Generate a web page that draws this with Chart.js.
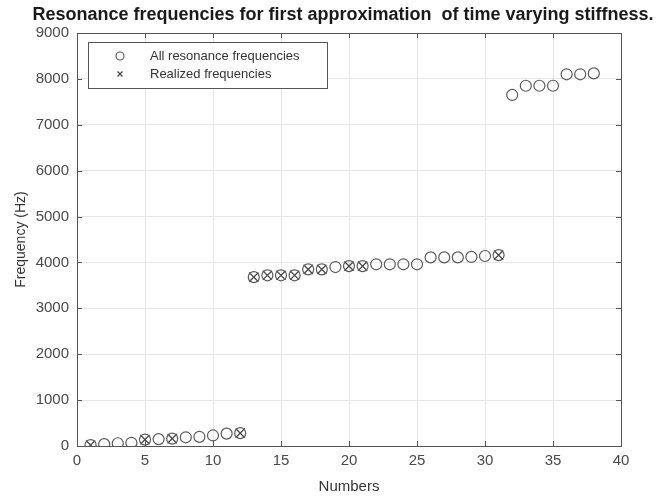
<!DOCTYPE html>
<html>
<head>
<meta charset="utf-8">
<script src="https://cdn.jsdelivr.net/npm/chart.js@4.4.1/dist/chart.umd.min.js"></script>
<style>
html, body { margin: 0; padding: 0; background: #fff; }
#wrap { width: 662px; height: 496px; }
</style>
</head>
<body>
<div id="wrap"><canvas id="freqChart" width="662" height="496"></canvas></div>
<script>
// mode numbers and their resonance frequencies (Hz)
const numbers = [1, 2, 3, 4, 5, 6, 7, 8, 9, 10, 11, 12, 13, 14, 15, 16, 17, 18, 19,
  20, 21, 22, 23, 24, 25, 26, 27, 28, 29, 30, 31, 32, 33, 34, 35, 36, 37, 38];
const allFreq = [20, 40, 60, 70, 140, 150, 160, 190, 200, 230, 270, 280,
  3680, 3720, 3720, 3720, 3850, 3850, 3900, 3920, 3920, 3960, 3960, 3960, 3960,
  4110, 4110, 4110, 4120, 4140, 4160,
  7650, 7850, 7850, 7850, 8100, 8100, 8120];
// the modes that are actually realized
const realizedNumbers = [1, 5, 7, 12, 13, 14, 15, 16, 17, 18, 20, 21, 31];

const xMin = 0, xMax = 40, xStep = 5;
const yMin = 0, yMax = 9000, yStep = 1000;

const chartTitle = "Resonance frequencies for first approximation  of time varying stiffness.";
const FONT = "'Liberation Sans', Arial, sans-serif";
const INK = "#4a4a4a";

const allPoints = numbers.map((n, i) => ({x: n, y: allFreq[i]}));
const realizedPoints = realizedNumbers.map(n => ({x: n, y: allFreq[numbers.indexOf(n)]}));

// title, box around the axes and inward ticks, MATLAB style
const frame = {
  id: "frame",
  afterDraw(chart) {
    const {ctx, chartArea: a, scales} = chart;
    ctx.save();
    ctx.strokeStyle = "#555";
    ctx.lineWidth = 1;
    ctx.strokeRect(a.left + 0.5, a.top + 0.5, a.right - a.left, a.bottom - a.top);
    ctx.beginPath();
    scales.x.ticks.forEach(t => {
      const px = Math.round(scales.x.getPixelForValue(t.value)) + 0.5;
      ctx.moveTo(px, a.bottom); ctx.lineTo(px, a.bottom - 5);
      ctx.moveTo(px, a.top); ctx.lineTo(px, a.top + 5);
    });
    scales.y.ticks.forEach(t => {
      const py = Math.round(scales.y.getPixelForValue(t.value)) + 0.5;
      ctx.moveTo(a.left, py); ctx.lineTo(a.left + 5, py);
      ctx.moveTo(a.right, py); ctx.lineTo(a.right - 5, py);
    });
    ctx.stroke();

    ctx.fillStyle = "#1a1a1a";
    ctx.font = "bold 18px " + FONT;
    ctx.textAlign = "center";
    ctx.textBaseline = "middle";
    ctx.fillText(chartTitle, (a.left + a.right) / 2 - 6, 15);
    ctx.restore();
  }
};

// legend box drawn inside the axes, top-left corner
const insetLegend = {
  id: "insetLegend",
  afterDraw(chart) {
    const {ctx, chartArea: a} = chart;
    const box = {x: a.left + 11, y: a.top + 9, w: 239, h: 46};
    ctx.save();
    ctx.fillStyle = "#fff";
    ctx.fillRect(box.x, box.y, box.w, box.h);
    ctx.strokeStyle = "#555";
    ctx.lineWidth = 1;
    ctx.strokeRect(box.x + 0.5, box.y + 0.5, box.w, box.h);
    ctx.font = "13px " + FONT;
    ctx.textBaseline = "middle";
    chart.data.datasets.forEach((ds, i) => {
      const cy = box.y + 14 + i * 18;
      Chart.helpers.drawPoint(ctx, {
        pointStyle: ds.pointStyle, radius: ds.pointStyle === "circle" ? 4 : 3.5, rotation: 0
      }, box.x + 32, cy);
      ctx.strokeStyle = ds.borderColor;
      ctx.lineWidth = ds.borderWidth;
      ctx.stroke();
      ctx.fillStyle = "#333";
      ctx.fillText(ds.label, box.x + 62, cy);
    });
    ctx.restore();
  }
};

new Chart(document.getElementById("freqChart"), {
  type: "scatter",
  data: {
    datasets: [
      {label: "All resonance frequencies", data: allPoints, pointStyle: "circle", pointRadius: 5.5,
        borderColor: "#5a5a5a", backgroundColor: "rgba(0,0,0,0)", borderWidth: 1.2},
      {label: "Realized frequencies", data: realizedPoints, pointStyle: "crossRot", pointRadius: 6.5,
        borderColor: "#4a4a4a", backgroundColor: "rgba(0,0,0,0)", borderWidth: 1.3}
    ]
  },
  options: {
    responsive: false,
    animation: false,
    layout: {padding: {top: 33, right: 41, left: 0, bottom: 0}},
    plugins: {legend: {display: false}, tooltip: {enabled: false}},
    scales: {
      x: {
        type: "linear", min: xMin, max: xMax,
        ticks: {stepSize: xStep, color: INK, font: {family: FONT, size: 15}, padding: 6,
          callback: v => String(v)},
        grid: {color: "#e6e6e6", drawTicks: false},
        border: {color: "#555"},
        title: {display: true, text: "Numbers", color: "#333", font: {family: FONT, size: 15}, padding: {top: 0, bottom: 0}},
        afterFit(scale) { scale.height = 50; }
      },
      y: {
        type: "linear", min: yMin, max: yMax,
        ticks: {stepSize: yStep, color: INK, font: {family: FONT, size: 15}, padding: 8,
          callback: v => String(v)},
        grid: {color: "#e6e6e6", drawTicks: false},
        border: {color: "#555"},
        title: {display: true, text: "Frequency (Hz)", color: "#333", font: {family: FONT, size: 14}, padding: {top: 13, bottom: 0}},
        afterFit(scale) { scale.width = 77; }
      }
    }
  },
  plugins: [frame, insetLegend]
});
</script>
</body>
</html>
